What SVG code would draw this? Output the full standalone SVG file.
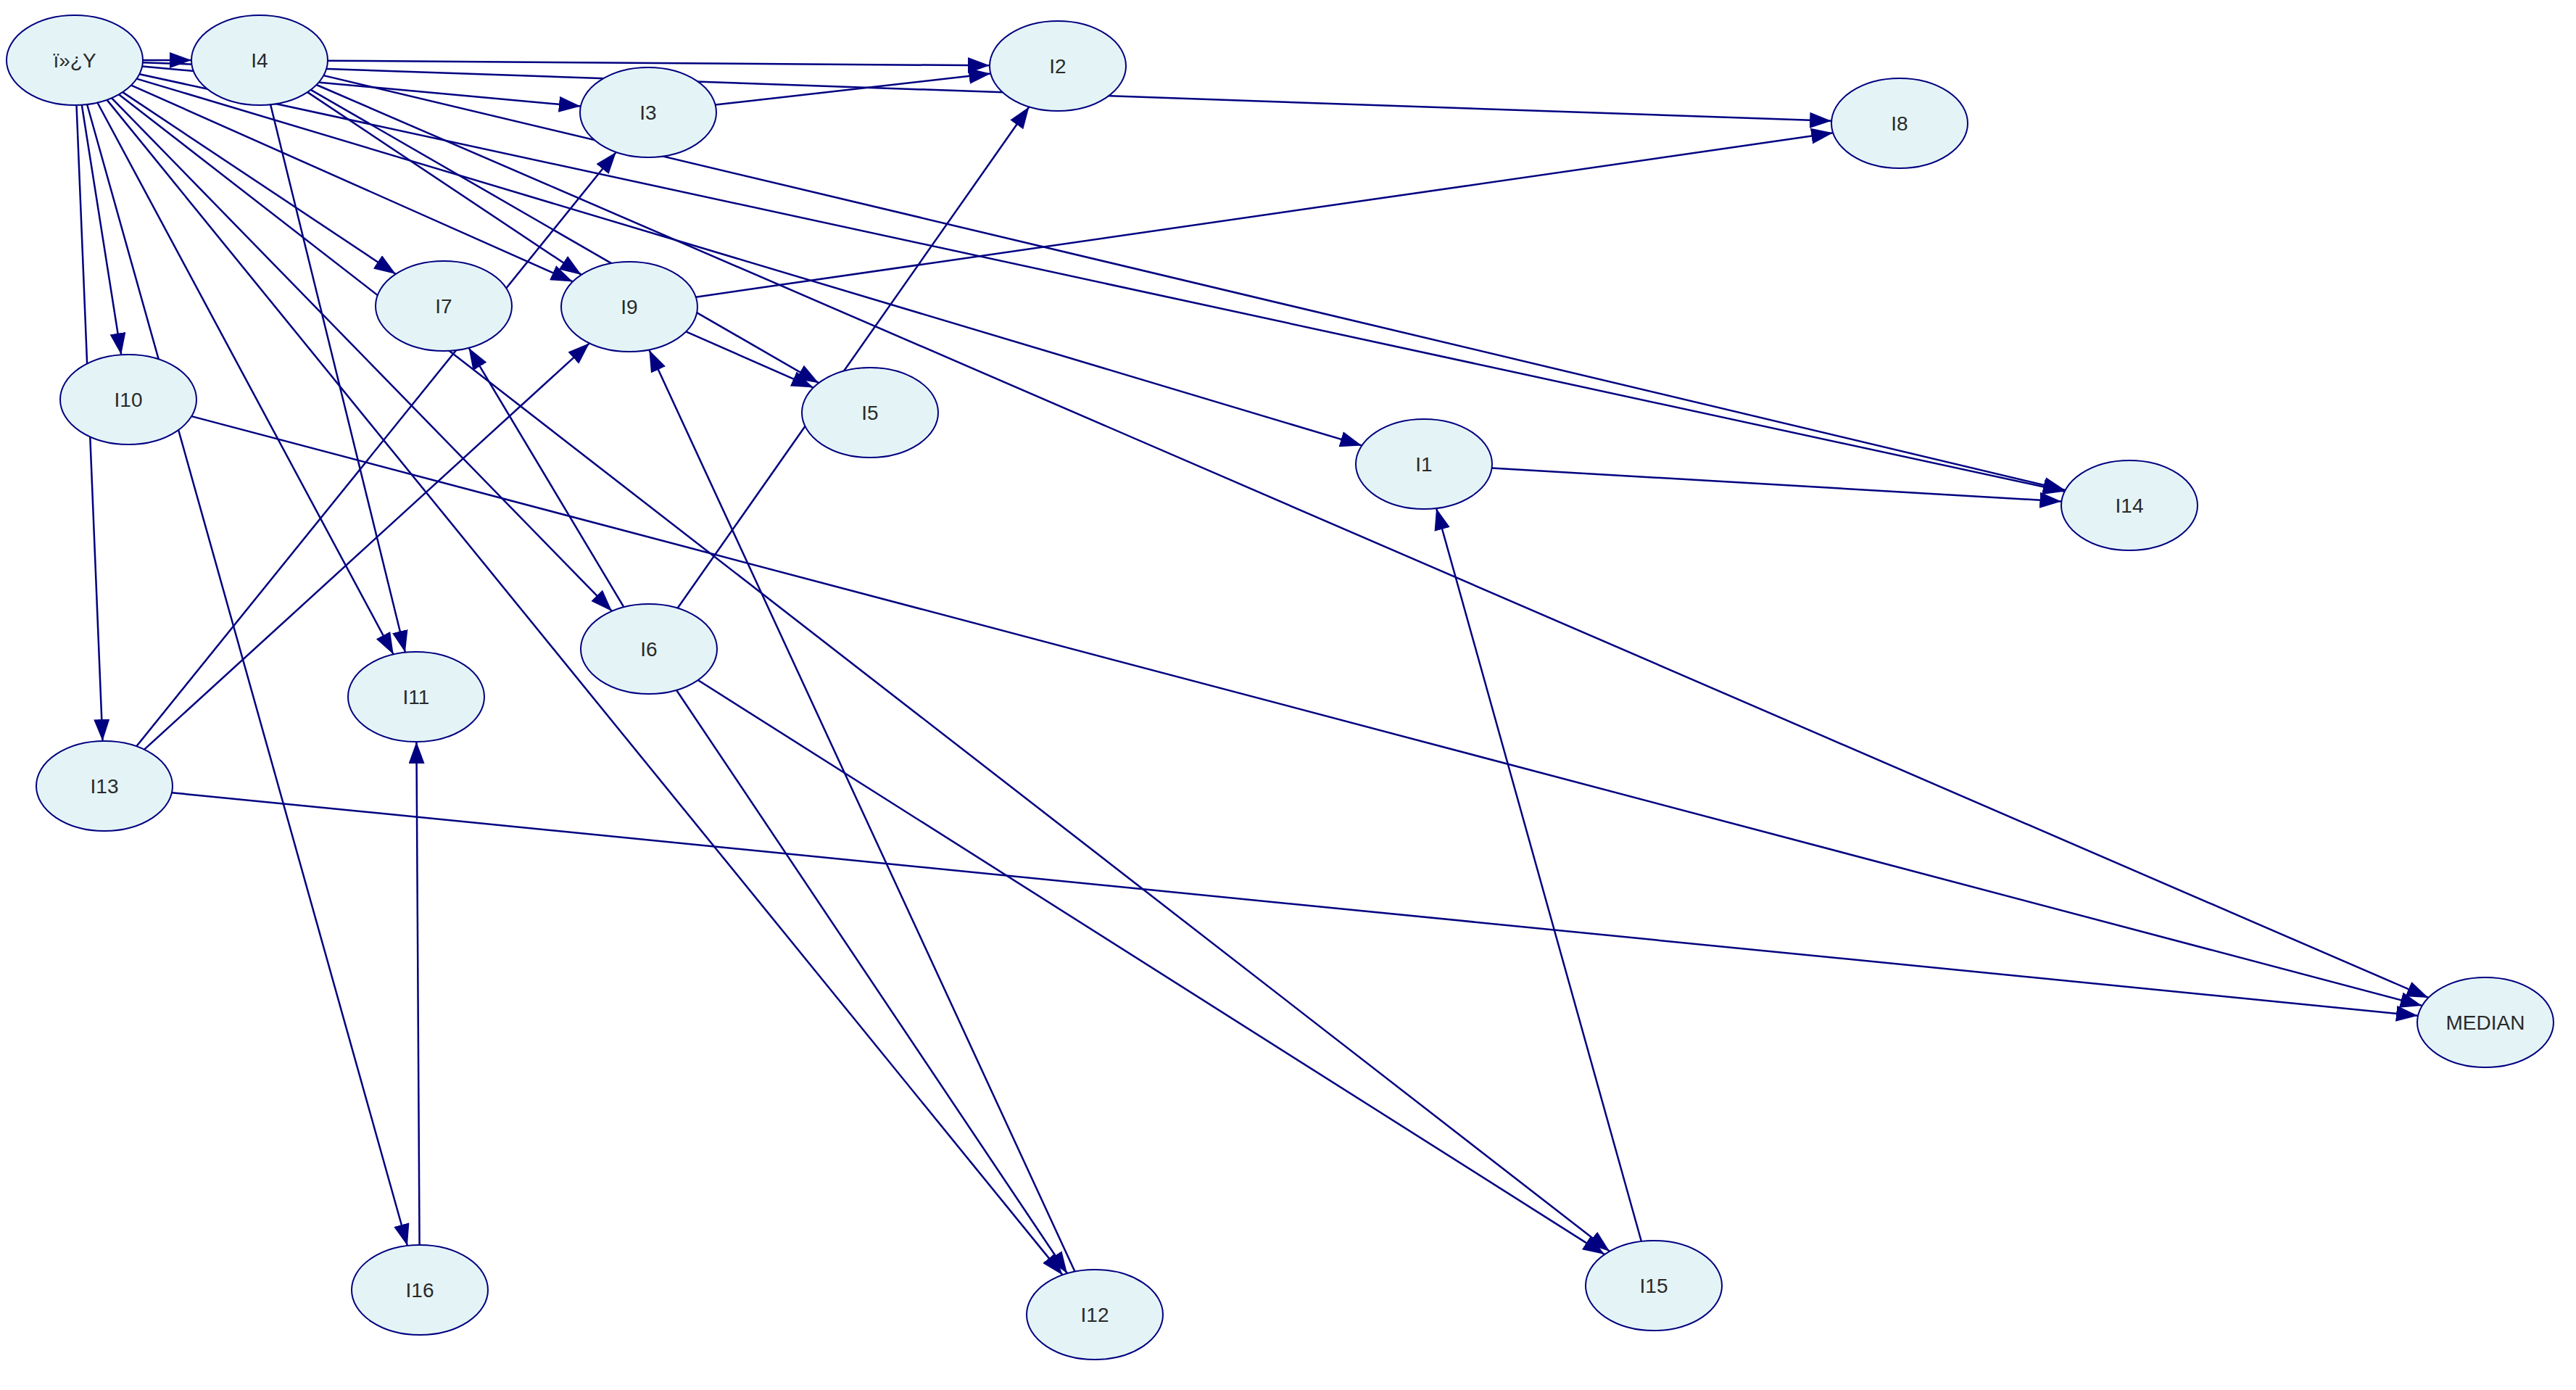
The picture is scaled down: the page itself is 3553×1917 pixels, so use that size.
<svg xmlns="http://www.w3.org/2000/svg" width="3553" height="1917" viewBox="0 0 3553 1917">
<style>
.e{stroke:#000080;stroke-width:2.5;fill:none;marker-end:url(#ah)}
.n ellipse{fill:#E4F4F6;stroke:#000080;stroke-width:2}
.n text{font-family:"Liberation Sans",Arial,sans-serif;font-size:28px;fill:#2a2a2a;text-anchor:middle}
</style>
<defs>
<marker id="ah" markerUnits="userSpaceOnUse" markerWidth="32" markerHeight="24" refX="30" refY="11" orient="auto">
<path d="M0,0 L30,11 L0,22 z" fill="#000080"/>
</marker>
</defs>
<rect width="3553" height="1917" fill="#ffffff"/>
<g id="connectors">
<line class="e" x1="197" y1="83" x2="264" y2="83"/>
<line class="e" x1="196.9" y1="86.2" x2="2526.1" y2="166.8"/>
<line class="e" x1="196.1" y1="91.5" x2="800.9" y2="146.5"/>
<line class="e" x1="112.8" y1="144.7" x2="167.2" y2="489.3"/>
<line class="e" x1="105.5" y1="145" x2="141.5" y2="1022"/>
<line class="e" x1="120.1" y1="144" x2="561.9" y2="1718"/>
<line class="e" x1="134.4" y1="141.5" x2="542.7" y2="902.6"/>
<line class="e" x1="147.4" y1="137.6" x2="1465.6" y2="1758.4"/>
<line class="e" x1="153.9" y1="135.1" x2="844.1" y2="842.9"/>
<line class="e" x1="163.9" y1="130.2" x2="2220.1" y2="1725.8"/>
<line class="e" x1="169.1" y1="127.1" x2="545.9" y2="378"/>
<line class="e" x1="181" y1="117.6" x2="790" y2="388.4"/>
<line class="e" x1="188.6" y1="108.6" x2="1878.4" y2="614.4"/>
<line class="e" x1="192.3" y1="102.3" x2="2847.7" y2="677.7"/>
<line class="e" x1="452" y1="83.7" x2="1365" y2="90.3"/>
<line class="e" x1="424.1" y1="127.1" x2="801.9" y2="378.9"/>
<line class="e" x1="373.1" y1="144.2" x2="558.9" y2="899.8"/>
<line class="e" x1="428.7" y1="123.8" x2="1129.3" y2="528.2"/>
<line class="e" x1="446.4" y1="104.1" x2="2848.6" y2="676"/>
<line class="e" x1="436.6" y1="117" x2="3349.4" y2="1376"/>
<line class="e" x1="986.6" y1="144.5" x2="1366.4" y2="101.5"/>
<line class="e" x1="959.8" y1="409.7" x2="2528.2" y2="183.3"/>
<line class="e" x1="946.2" y1="457.4" x2="1121.8" y2="534.6"/>
<line class="e" x1="860.5" y1="837.3" x2="646.5" y2="479.7"/>
<line class="e" x1="934.5" y1="838.7" x2="1419.5" y2="147.3"/>
<line class="e" x1="933" y1="951.7" x2="1472" y2="1756.3"/>
<line class="e" x1="962.8" y1="938" x2="2213.2" y2="1730.1"/>
<line class="e" x1="188.2" y1="1029.3" x2="849.8" y2="209.7"/>
<line class="e" x1="199" y1="1033.7" x2="813" y2="473.3"/>
<line class="e" x1="237" y1="1093.2" x2="3335" y2="1400.8"/>
<line class="e" x1="264.3" y1="574.1" x2="3340.7" y2="1386.9"/>
<line class="e" x1="1482.6" y1="1753.7" x2="895.4" y2="482.7"/>
<line class="e" x1="578.6" y1="1717" x2="574.4" y2="1023"/>
<line class="e" x1="2263.9" y1="1712" x2="1981.1" y2="701"/>
<line class="e" x1="2057.6" y1="645.5" x2="2843.4" y2="691.5"/>
</g>
<g id="node-Y" class="n"><ellipse cx="103" cy="83" rx="94" ry="62"/><text x="103" y="93">ï»¿Y</text></g>
<g id="node-I4" class="n"><ellipse cx="358" cy="83" rx="94" ry="62"/><text x="358" y="93">I4</text></g>
<g id="node-I3" class="n"><ellipse cx="894" cy="155" rx="94" ry="62"/><text x="894" y="165">I3</text></g>
<g id="node-I2" class="n"><ellipse cx="1459" cy="91" rx="94" ry="62"/><text x="1459" y="101">I2</text></g>
<g id="node-I8" class="n"><ellipse cx="2620" cy="170" rx="94" ry="62"/><text x="2620" y="180">I8</text></g>
<g id="node-I7" class="n"><ellipse cx="612" cy="422" rx="94" ry="62"/><text x="612" y="432">I7</text></g>
<g id="node-I9" class="n"><ellipse cx="868" cy="423" rx="94" ry="62"/><text x="868" y="433">I9</text></g>
<g id="node-I5" class="n"><ellipse cx="1200" cy="569" rx="94" ry="62"/><text x="1200" y="579">I5</text></g>
<g id="node-I10" class="n"><ellipse cx="177" cy="551" rx="94" ry="62"/><text x="177" y="561">I10</text></g>
<g id="node-I1" class="n"><ellipse cx="1964" cy="640" rx="94" ry="62"/><text x="1964" y="650">I1</text></g>
<g id="node-I14" class="n"><ellipse cx="2937" cy="697" rx="94" ry="62"/><text x="2937" y="707">I14</text></g>
<g id="node-I6" class="n"><ellipse cx="895" cy="895" rx="94" ry="62"/><text x="895" y="905">I6</text></g>
<g id="node-I11" class="n"><ellipse cx="574" cy="961" rx="94" ry="62"/><text x="574" y="971">I11</text></g>
<g id="node-I13" class="n"><ellipse cx="144" cy="1084" rx="94" ry="62"/><text x="144" y="1094">I13</text></g>
<g id="node-MEDIAN" class="n"><ellipse cx="3428" cy="1410" rx="94" ry="62"/><text x="3428" y="1420">MEDIAN</text></g>
<g id="node-I16" class="n"><ellipse cx="579" cy="1779" rx="94" ry="62"/><text x="579" y="1789">I16</text></g>
<g id="node-I12" class="n"><ellipse cx="1510" cy="1813" rx="94" ry="62"/><text x="1510" y="1823">I12</text></g>
<g id="node-I15" class="n"><ellipse cx="2281" cy="1773" rx="94" ry="62"/><text x="2281" y="1783">I15</text></g>
</svg>
